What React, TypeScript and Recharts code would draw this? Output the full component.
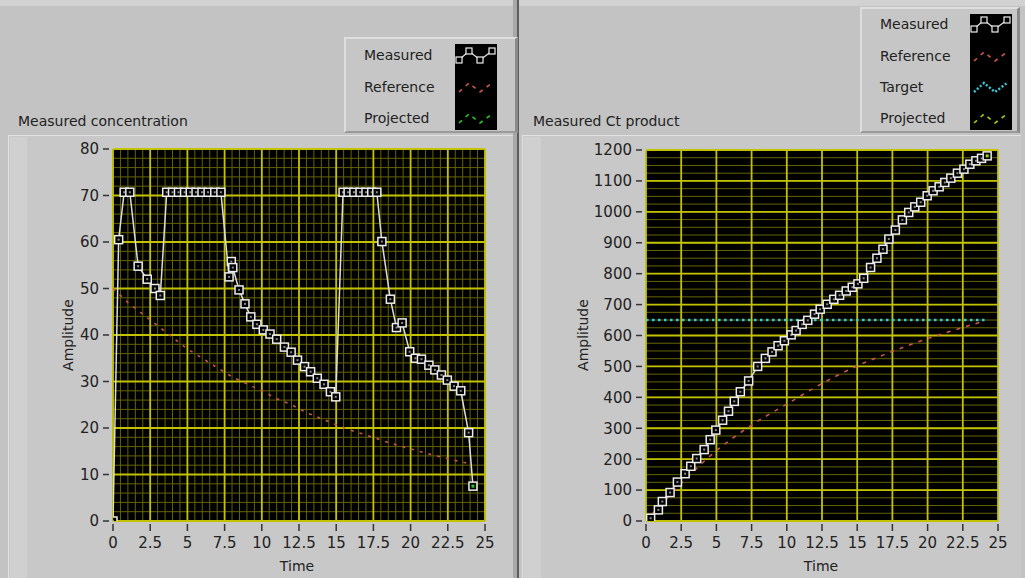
import React from 'react';
import { ComposedChart, Line, XAxis, YAxis, CartesianGrid } from 'recharts';

// ---- data ----
const timeTicks = [0, 2.5, 5, 7.5, 10, 12.5, 15, 17.5, 20, 22.5, 25];
const concTicks = [0, 10, 20, 30, 40, 50, 60, 70, 80];
const ctTicks = [0, 100, 200, 300, 400, 500, 600, 700, 800, 900, 1000, 1100, 1200];

const concTime = [
  0, 0.38, 0.75, 1.13, 1.69, 2.3, 2.82, 3.18, 3.61, 4.0, 4.4, 4.81, 5.19, 5.58, 5.98, 6.39, 6.84, 7.25,
  7.8, 7.95, 8.05, 8.47, 8.87, 9.26, 9.67, 10.1, 10.55, 11.0, 11.52, 11.97, 12.4, 12.87, 13.28, 13.73,
  14.18, 14.61, 14.97, 15.46, 15.8, 16.19, 16.6, 17.0, 17.39, 17.73, 18.07, 18.64, 19.05, 19.43, 19.94,
  20.32, 20.73, 21.23, 21.63, 22.07, 22.47, 22.92, 23.37, 23.9, 24.19,
];
const concMeasured = [
  0, 60.5, 70.7, 70.7, 54.8, 52, 50, 48.5, 70.7, 70.7, 70.7, 70.7, 70.7, 70.7, 70.7, 70.7, 70.7, 70.7,
  52.5, 55.8, 54.5, 49.7, 46.7, 43.9, 42.3, 41.1, 40.2, 39.1, 37.4, 36.3, 34.6, 33.2, 32.1, 30.7,
  29.4, 27.8, 26.7, 70.7, 70.7, 70.7, 70.7, 70.7, 70.7, 70.7, 60.1, 47.7, 41.6, 42.6, 36.4,
  35.0, 34.8, 33.5, 32.5, 31.4, 30.3, 29.0, 28.0, 19.0, 7.5,
];
const refTime = [0, 1, 2, 3, 4, 5, 6, 7, 8, 9, 10, 11, 12, 13, 14, 15, 16, 17, 18, 19, 20, 21, 22, 23, 24];
const concReference = [
  50, 47, 44.5, 42, 39.5, 37, 35, 33, 31, 29.5, 28, 26.3, 25, 23.3, 22, 20.7, 19.5, 18.5, 17.4, 16.4,
  15.5, 14.6, 13.8, 13, 12.3,
];
const concProjected = [{ t: 24.19, v: 7.5 }];

const ctTime = [
  0.33, 0.88, 1.16, 1.71, 2.23, 2.78, 3.18, 3.6, 4.13, 4.56, 4.96, 5.44, 5.86, 6.27, 6.7, 7.29, 7.93, 8.48,
  8.95, 9.38, 9.83, 10.31, 10.66, 11.09, 11.49, 11.97, 12.37, 12.87, 13.34, 13.75, 14.22, 14.65, 15.05,
  15.46, 15.95, 16.4, 16.83, 17.25, 17.71, 18.21, 18.66, 19.09, 19.51, 19.97, 20.39, 20.82, 21.22, 21.65,
  22.12, 22.58, 23.0, 23.43, 23.83, 24.23,
];
const ctMeasured = [
  9, 36, 63, 92, 126, 153, 177, 202, 231, 263, 294, 326, 355, 387, 418, 453, 500, 526,
  547, 567, 583, 602, 616, 636, 649, 669, 685, 701, 717, 730, 744, 756, 767,
  785, 820, 850, 879, 912, 941, 974, 998, 1016, 1031, 1052, 1068, 1081, 1095, 1109,
  1125, 1138, 1154, 1165, 1173, 1181,
];
const ctReference = [
  0, 50, 98, 144, 188, 228, 263, 295, 325, 352, 378, 405, 432, 457, 480, 502, 521, 540, 557, 574,
  590, 605, 619, 633, 646,
];
const ctTarget = [{ t: 0, v: 650 }, { t: 24.1, v: 650 }];
const ctProjected = [{ t: 24.23, v: 1181 }];

// grid line positions
const concMinorX = Array.from({ length: 51 }, (_, i) => i * 0.5);
const concMinorY = Array.from({ length: 41 }, (_, i) => i * 2);
const ctMinorY = Array.from({ length: 49 }, (_, i) => i * 25);

const zip = (ts: number[], vs: number[]) => ts.map((t, i) => ({ t, v: vs[i] }));

const FONT = '"DejaVu Sans", "Liberation Sans", sans-serif';
const MAJOR = '#c2c200';
const MINOR = '#646400';
const TEXT = '#222';

const YTick = ({ x, y, payload }: any) => (
  <g>
    <line x1={x - 10} x2={x - 4} y1={y} y2={y} stroke="#333" strokeWidth={1.5} />
    <text x={x - 14} y={y} dy="0.36em" textAnchor="end" fontSize={15} fill={TEXT} fontFamily={FONT}>
      {payload.value}
    </text>
  </g>
);

const XTick = ({ x, y, payload }: any) => (
  <g>
    <line x1={x} x2={x} y1={y + 3} y2={y + 10} stroke="#333" strokeWidth={1.5} />
    <text x={x} y={y + 22} dy="0.36em" textAnchor="middle" fontSize={15} fill={TEXT} fontFamily={FONT}>
      {payload.value}
    </text>
  </g>
);

const SquareDot = (props: any) => {
  const { cx, cy, index } = props;
  if (cx == null || cy == null) return <g key={index} />;
  return (
    <g key={index}>
      <rect x={cx - 4} y={cy - 4} width={8} height={8} fill="#000" stroke="#ececec" strokeWidth={1.5} />
      <rect x={cx - 1} y={cy - 1} width={2} height={2} fill="#8a8a8a" />
    </g>
  );
};

const GreenDot = (color: string) => (props: any) => {
  const { cx, cy, index } = props;
  return <rect key={index} x={cx - 1.5} y={cy - 1.5} width={3} height={3} fill={color} />;
};

const Abs = ({ x, y, children, style }: any) => (
  <div style={{ position: 'absolute', left: x, top: y, fontFamily: FONT, color: TEXT, whiteSpace: 'nowrap', ...style }}>
    {children}
  </div>
);

const Centered = ({ x, y, rotate, children }: any) => (
  <div
    style={{
      position: 'absolute', left: x, top: y, fontFamily: FONT, fontSize: 14, color: TEXT, whiteSpace: 'nowrap',
      transform: `translate(-50%, -50%)${rotate ? ' rotate(-90deg)' : ''}`,
    }}
  >
    {children}
  </div>
);

const zig = '4,13 14,4 25,13 37,4';

const Swatch = ({ kind }: { kind: string }) => {
  if (kind === 'measured')
    return (
      <svg width={42} height={18}>
        <polyline points={zig} fill="none" stroke="#e0e0e0" strokeWidth={1.3} />
        {[[4, 13], [14, 4], [25, 13], [37, 4]].map(([a, b], i) => (
          <rect key={i} x={a - 3} y={b - 3} width={6} height={6} fill="#000" stroke="#eee" strokeWidth={1.2} />
        ))}
      </svg>
    );
  const color = kind === 'reference' ? '#c8574a' : kind === 'target' ? '#38c8d8' : kind === 'projG' ? '#22c822' : '#98d010';
  const dash = kind === 'target' ? '2 2' : '4 5';
  return (
    <svg width={42} height={18}>
      <polyline points={zig} fill="none" stroke={color} strokeWidth={kind === 'target' ? 2.5 : 1.6} strokeDasharray={dash} />
    </svg>
  );
};

const LegendBox = ({ x, y, w, h, swX, rows }: any) => (
  <div
    style={{
      position: 'absolute', left: x, top: y, width: w, height: h, background: '#c6c6c6',
      borderTop: '2px solid #dedede', borderLeft: '2px solid #dedede',
      borderRight: '3px solid #8a8a8a', borderBottom: '2px solid #9a9a9a', boxSizing: 'border-box',
    }}
  >
    <div style={{ position: 'absolute', left: swX, top: 5, bottom: 1, width: 42, background: '#000' }} />
    {rows.map((r: any, i: number) => (
      <React.Fragment key={i}>
        <div style={{ position: 'absolute', left: 18, top: r.cy - 9, fontFamily: FONT, fontSize: 14, color: TEXT }}>{r.label}</div>
        <div style={{ position: 'absolute', left: swX, top: r.cy - 9 }}>
          <Swatch kind={r.kind} />
        </div>
      </React.Fragment>
    ))}
  </div>
);

export default function App() {
  const concData = zip(concTime, concMeasured);
  const concRef = zip(refTime, concReference);
  const ctData = zip(ctTime, ctMeasured);
  const ctRef = zip(refTime, ctReference);

  return (
    <div style={{ position: 'absolute', left: 0, top: 0, width: 1025, height: 578, overflow: 'hidden', background: '#c3c3c3' }}>
      {/* panels */}
      <div style={{ position: 'absolute', left: 0, top: 0, width: 1025, height: 6, background: '#d2d2d2' }} />
      <div style={{ position: 'absolute', left: 8, top: 135, width: 505, height: 443, background: '#c8c8c8', borderTop: '1px solid #e2e2e2', borderLeft: '1px solid #e2e2e2' }} />
      <div style={{ position: 'absolute', left: 10, top: 137, width: 17, height: 441, background: '#d0d0d0' }} />
      <div style={{ position: 'absolute', left: 513, top: 0, width: 4, height: 578, background: '#a8a8a8' }} />
      <div style={{ position: 'absolute', left: 517, top: 0, width: 2, height: 578, background: '#5e5e5e' }} />
      <div style={{ position: 'absolute', left: 522, top: 135, width: 498, height: 443, background: '#c8c8c8', borderTop: '1px solid #e2e2e2', borderLeft: '1px solid #e2e2e2' }} />
      <div style={{ position: 'absolute', left: 524, top: 137, width: 17, height: 441, background: '#d0d0d0' }} />

      <Abs x={18} y={113} style={{ fontSize: 14 }}>Measured concentration</Abs>
      <Abs x={533} y={113} style={{ fontSize: 14 }}>Measured Ct product</Abs>

      <LegendBox
        x={344} y={37} w={174} h={96} swX={109}
        rows={[
          { label: 'Measured', kind: 'measured', cy: 17 },
          { label: 'Reference', kind: 'reference', cy: 49 },
          { label: 'Projected', kind: 'projG', cy: 80 },
        ]}
      />
      <LegendBox
        x={860} y={7} w={160} h={126} swX={108}
        rows={[
          { label: 'Measured', kind: 'measured', cy: 16 },
          { label: 'Reference', kind: 'reference', cy: 48 },
          { label: 'Target', kind: 'target', cy: 79 },
          { label: 'Projected', kind: 'projL', cy: 110 },
        ]}
      />

      {/* left graph */}
      <div style={{ position: 'absolute', left: 0, top: 0 }}>
        <ComposedChart width={520} height={578} margin={{ top: 149, right: 35, bottom: 27, left: 63 }}>
          <CartesianGrid fill="#000" stroke={MINOR} strokeWidth={1} verticalValues={concMinorX} horizontalValues={concMinorY} />
          <CartesianGrid fill="none" stroke={MAJOR} strokeWidth={1.8} verticalValues={timeTicks} horizontalValues={concTicks} />
          <XAxis type="number" dataKey="t" domain={[0, 25]} ticks={timeTicks} allowDataOverflow axisLine={false}
            tickLine={false} tickSize={0} tickMargin={0} height={30} tick={<XTick />} interval={0} />
          <YAxis type="number" dataKey="v" domain={[0, 80]} ticks={concTicks} allowDataOverflow axisLine={false}
            tickLine={false} tickSize={0} tickMargin={0} width={50} tick={<YTick />} interval={0} />
          <Line data={concRef} dataKey="v" type="linear" stroke="#c8574a" strokeWidth={1.6} strokeDasharray="3 6" dot={false} isAnimationActive={false} />
          <Line data={concData} dataKey="v" type="linear" stroke="#dcdcdc" strokeWidth={1.5} dot={<SquareDot />} isAnimationActive={false} />
          <Line data={concProjected} dataKey="v" stroke="#22c822" dot={GreenDot('#22c822')} isAnimationActive={false} />
        </ComposedChart>
      </div>
      <Centered x={68} y={335} rotate>Amplitude</Centered>
      <Centered x={297} y={566}>Time</Centered>

      {/* right graph */}
      <div style={{ position: 'absolute', left: 520, top: 0 }}>
        <ComposedChart width={505} height={578} margin={{ top: 150, right: 27, bottom: 27, left: 76 }}>
          <CartesianGrid fill="#000" stroke={MINOR} strokeWidth={1} vertical={false} horizontalValues={ctMinorY} />
          <CartesianGrid fill="none" stroke={MAJOR} strokeWidth={1.8} verticalValues={timeTicks} horizontalValues={ctTicks} />
          <XAxis type="number" dataKey="t" domain={[0, 25]} ticks={timeTicks} allowDataOverflow axisLine={false}
            tickLine={false} tickSize={0} tickMargin={0} height={30} tick={<XTick />} interval={0} />
          <YAxis type="number" dataKey="v" domain={[0, 1200]} ticks={ctTicks} allowDataOverflow axisLine={false}
            tickLine={false} tickSize={0} tickMargin={0} width={50} tick={<YTick />} interval={0} />
          <Line data={ctRef} dataKey="v" type="linear" stroke="#c8574a" strokeWidth={1.6} strokeDasharray="4 6" dot={false} isAnimationActive={false} />
          <Line data={ctTarget} dataKey="v" type="linear" stroke="#38c8d8" strokeWidth={2.5} strokeDasharray="2.5 3.5" dot={false} isAnimationActive={false} />
          <Line data={ctData} dataKey="v" type="linear" stroke="#dcdcdc" strokeWidth={1.5} dot={<SquareDot />} isAnimationActive={false} />
          <Line data={ctProjected} dataKey="v" stroke="#98d010" dot={GreenDot('#98d010')} isAnimationActive={false} />
        </ComposedChart>
      </div>
      <Centered x={583} y={335} rotate>Amplitude</Centered>
      <Centered x={821} y={566}>Time</Centered>
    </div>
  );
}
